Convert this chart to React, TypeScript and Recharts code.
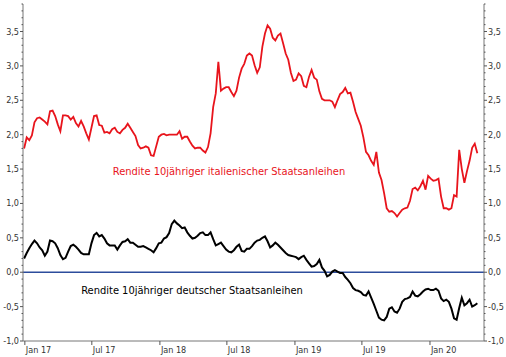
import React from "react";
import { LineChart, Line, XAxis, YAxis, ReferenceLine } from "recharts";

// weekly observations, first week ending 2016-12-30
const START_DATE = "2016-12-30";

const italyYield = [
  1.80, 1.96, 1.92, 1.99, 2.18, 2.24, 2.25, 2.22, 2.19, 2.15,
  2.34, 2.35, 2.27, 2.15, 2.05, 2.28, 2.28, 2.27, 2.22, 2.26,
  2.17, 2.12, 2.20, 2.12, 2.02, 1.93, 2.10, 2.27, 2.28, 2.14,
  2.13, 2.03, 2.04, 2.02, 2.08, 2.10, 2.04, 2.02, 2.07, 2.10,
  2.16, 2.10, 2.04, 1.98, 1.85, 1.80, 1.81, 1.83, 1.81, 1.70,
  1.69, 1.83, 1.97, 2.00, 2.01, 1.99, 2.00, 2.00, 2.00, 2.00,
  2.05, 1.94, 1.97, 1.97, 1.90, 1.84, 1.80, 1.81, 1.81, 1.77,
  1.74, 1.82, 2.02, 2.40, 2.60, 3.06, 2.64, 2.67, 2.69, 2.69,
  2.62, 2.56, 2.64, 2.83, 2.96, 3.03, 3.15, 3.18, 3.15, 3.01,
  2.90, 2.98, 3.28, 3.47, 3.59, 3.54, 3.41, 3.37, 3.44, 3.47,
  3.33, 3.18, 3.09, 2.90, 2.78, 2.80, 2.89, 2.85, 2.71, 2.69,
  2.84, 2.94, 2.83, 2.80, 2.63, 2.52, 2.50, 2.50, 2.50, 2.48,
  2.40, 2.50, 2.59, 2.62, 2.68, 2.60, 2.61, 2.48, 2.33, 2.23,
  2.13, 1.96, 1.75, 1.70, 1.62, 1.56, 1.75, 1.45, 1.34, 1.15,
  0.93, 0.88, 0.89, 0.86, 0.81, 0.86, 0.91, 0.93, 0.94, 1.04,
  1.21, 1.23, 1.19, 1.25, 1.33, 1.20, 1.40, 1.36, 1.33, 1.34,
  1.36, 1.10, 0.93, 0.93, 0.91, 0.93, 1.12, 1.10, 1.78, 1.50,
  1.30, 1.47, 1.62, 1.81, 1.87, 1.73,
];

const germanyYield = [
  0.20, 0.28, 0.35, 0.41, 0.46, 0.42, 0.36, 0.32, 0.24, 0.30,
  0.46, 0.45, 0.42, 0.35, 0.25, 0.19, 0.21, 0.30, 0.38, 0.40,
  0.37, 0.33, 0.28, 0.26, 0.26, 0.26, 0.42, 0.54, 0.57, 0.52,
  0.54, 0.49, 0.42, 0.39, 0.39, 0.39, 0.33, 0.39, 0.44, 0.45,
  0.48, 0.43, 0.43, 0.40, 0.37, 0.37, 0.38, 0.36, 0.34, 0.32,
  0.29, 0.35, 0.42, 0.43, 0.49, 0.51, 0.57, 0.70, 0.75, 0.71,
  0.68, 0.64, 0.65, 0.58, 0.53, 0.49, 0.50, 0.53, 0.57, 0.58,
  0.54, 0.54, 0.58, 0.48, 0.39, 0.41, 0.43, 0.38, 0.33, 0.30,
  0.29, 0.32, 0.37, 0.40, 0.31, 0.30, 0.34, 0.34, 0.38, 0.43,
  0.46, 0.47, 0.50, 0.52, 0.45, 0.36, 0.39, 0.43, 0.40, 0.36,
  0.32, 0.28, 0.25, 0.24, 0.23, 0.22, 0.19, 0.22, 0.24, 0.18,
  0.13, 0.08, 0.09, 0.12, 0.18, 0.07, 0.02, -0.06, -0.04, 0.01,
  0.03, 0.01, -0.01, -0.01, -0.07, -0.11, -0.16, -0.23, -0.26, -0.27,
  -0.29, -0.33, -0.34, -0.28, -0.37, -0.46, -0.56, -0.66, -0.69, -0.70,
  -0.65, -0.53, -0.51, -0.57, -0.59, -0.53, -0.43, -0.39, -0.38, -0.36,
  -0.28, -0.34, -0.35, -0.32, -0.28, -0.25, -0.24, -0.26, -0.26, -0.24,
  -0.27, -0.38, -0.42, -0.40, -0.43, -0.53, -0.67, -0.69, -0.52, -0.37,
  -0.48, -0.45, -0.40, -0.50, -0.48, -0.45,
];

const xTickDates = ["2017-01-01", "2017-07-01", "2018-01-01", "2018-07-01", "2019-01-01", "2019-07-01", "2020-01-01"];
const xTickLabels = ["Jan 17", "Jul 17", "Jan 18", "Jul 18", "Jan 19", "Jul 19", "Jan 20"];
const xDomainDates = ["2016-12-27", "2020-05-26"];
const yMajorTicks = [-1, -0.5, 0, 0.5, 1, 1.5, 2, 2.5, 3, 3.5];
const yDomain = [-1, 3.9];

const italyLabel = "Rendite 10jähriger italienischer Staatsanleihen";
const germanyLabel = "Rendite 10jähriger deutscher Staatsanleihen";

const RED = "#e8141c";
const FONT = '"DejaVu Sans Condensed", "DejaVu Sans", sans-serif';
const DAY = 86400000;
const toTs = (s: string) => Date.parse(s + "T00:00:00Z");

const t0 = toTs(START_DATE);
const data = italyYield.map((v, i) => ({
  t: t0 + i * 7 * DAY,
  italy: v,
  germany: germanyYield[i],
}));

const xTicks = xTickDates.map(toTs);
const xDomain = xDomainDates.map(toTs);

// minor ticks every 0.1 between the domain bounds
const yAllTicks: number[] = [];
for (let k = 0; k <= Math.round((yDomain[1] - yDomain[0]) * 10); k++) {
  yAllTicks.push(Math.round((yDomain[0] + k * 0.1) * 10) / 10);
}

const isMajor = (v: number) => yMajorTicks.some((m) => Math.abs(m - v) < 1e-6);
const fmt = (v: number) => v.toFixed(1).replace(".", ",");

const LeftTick = (props: any) => {
  const { x, y, payload } = props;
  const v = payload.value as number;
  const major = isMajor(v);
  return (
    <g>
      <line x1={x} x2={x - (major ? 3 : 1.5)} y1={y} y2={y} stroke="#555" strokeWidth={1} />
      {major && (
        <text x={x - 4} y={y} dy={3} textAnchor="end" fontSize={9} fill="#333" fontFamily={FONT}>
          {fmt(v)}
        </text>
      )}
    </g>
  );
};

const RightTick = (props: any) => {
  const { x, y, payload } = props;
  const v = payload.value as number;
  const major = isMajor(v);
  return (
    <g>
      <line x1={x} x2={x + (major ? 3 : 1.5)} y1={y} y2={y} stroke="#555" strokeWidth={1} />
      {major && (
        <text x={x + 4} y={y} dy={3} textAnchor="start" fontSize={9} fill="#333" fontFamily={FONT}>
          {fmt(v)}
        </text>
      )}
    </g>
  );
};

const BottomTick = (props: any) => {
  const { x, y, payload } = props;
  const idx = xTicks.indexOf(payload.value);
  return (
    <g>
      <line x1={x} x2={x} y1={y} y2={y + 4} stroke="#555" strokeWidth={1} />
      <text x={x + 1} y={y + 12} textAnchor="start" fontSize={9} fill="#333" fontFamily={FONT}>
        {idx >= 0 ? xTickLabels[idx] : ""}
      </text>
    </g>
  );
};

export default function App() {
  return (
    <div
      style={{
        position: "absolute",
        left: 0,
        top: 0,
        width: 506,
        height: 357,
        background: "#fff",
        fontFamily: FONT,
      }}
    >
      <LineChart width={506} height={357} data={data} margin={{ top: 4, right: 0, bottom: 0, left: 0 }}>
        <XAxis
          xAxisId="bottom"
          dataKey="t"
          type="number"
          scale="time"
          domain={xDomain}
          ticks={xTicks}
          interval={0}
          height={16}
          tickSize={0}
          tickMargin={0}
          tickLine={false}
          axisLine={{ stroke: "#777" }}
          tick={<BottomTick />}
        />
        <XAxis
          xAxisId="top"
          orientation="top"
          dataKey="t"
          type="number"
          domain={xDomain}
          height={0}
          tick={false}
          tickLine={false}
          axisLine={{ stroke: "#777" }}
        />
        <YAxis
          yAxisId="left"
          type="number"
          domain={yDomain}
          ticks={yAllTicks}
          interval={0}
          width={23}
          tickSize={0}
          tickMargin={0}
          tickLine={false}
          axisLine={{ stroke: "#777" }}
          tick={<LeftTick />}
        />
        <YAxis
          yAxisId="right"
          orientation="right"
          type="number"
          domain={yDomain}
          ticks={yAllTicks}
          interval={0}
          width={22}
          tickSize={0}
          tickMargin={0}
          tickLine={false}
          axisLine={{ stroke: "#777" }}
          tick={<RightTick />}
        />
        <ReferenceLine xAxisId="bottom" yAxisId="left" y={0} stroke="#2c4c9c" strokeWidth={1.6} />
        {/* invisible carrier so the mirrored right axis gets its ticks */}
        <Line
          xAxisId="top"
          yAxisId="right"
          type="linear"
          dataKey="germany"
          stroke="transparent"
          strokeWidth={0}
          dot={false}
          activeDot={false}
          legendType="none"
          isAnimationActive={false}
        />
        <Line
          xAxisId="bottom"
          yAxisId="left"
          type="linear"
          dataKey="italy"
          stroke={RED}
          strokeWidth={1.8}
          dot={false}
          isAnimationActive={false}
        />
        <Line
          xAxisId="bottom"
          yAxisId="left"
          type="linear"
          dataKey="germany"
          stroke="#000"
          strokeWidth={2}
          dot={false}
          isAnimationActive={false}
        />
      </LineChart>
      <div
        style={{
          position: "absolute",
          left: 229,
          top: 171,
          transform: "translate(-50%, -50%)",
          whiteSpace: "nowrap",
          color: RED,
          fontSize: 11,
        }}
      >
        {italyLabel}
      </div>
      <div
        style={{
          position: "absolute",
          left: 192,
          top: 290,
          transform: "translate(-50%, -50%)",
          whiteSpace: "nowrap",
          color: "#000",
          fontSize: 11,
        }}
      >
        {germanyLabel}
      </div>
    </div>
  );
}
